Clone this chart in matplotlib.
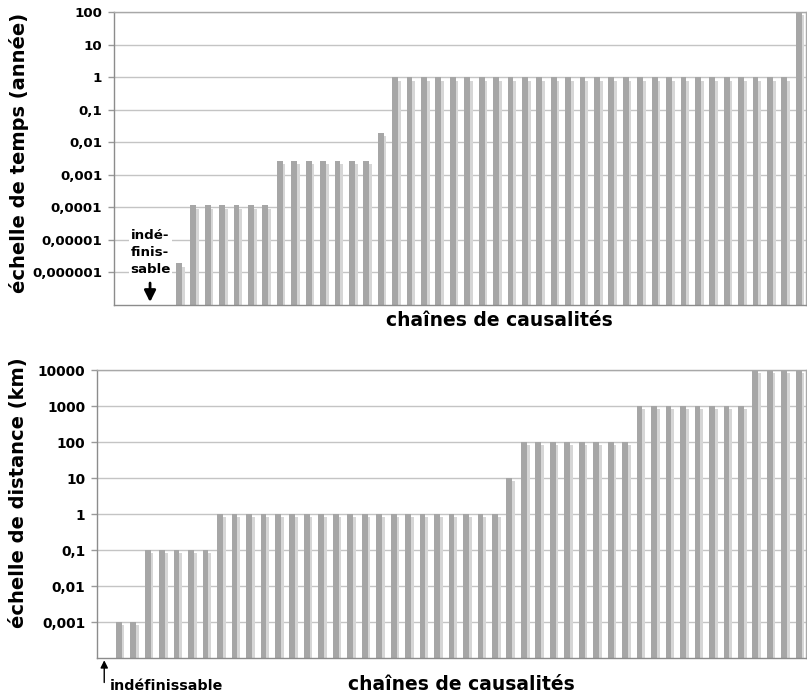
import numpy as np
import matplotlib
matplotlib.use("Agg")
import matplotlib.pyplot as plt
import matplotlib.patheffects as pe
from matplotlib.ticker import FixedLocator, FixedFormatter, NullLocator
from matplotlib.transforms import blended_transform_factory

# ---------- données ------------------------------------------------------ #
# échelle de temps (année) par chaîne de causalité ; nan = indéfinissable
temps = [np.nan, np.nan, np.nan, np.nan,
         1.9e-6,
         1.14e-4, 1.14e-4, 1.14e-4, 1.14e-4, 1.14e-4, 1.14e-4,
         2.74e-3, 2.74e-3, 2.74e-3, 2.74e-3, 2.74e-3, 2.74e-3, 2.74e-3,
         1.92e-2,
         1, 1, 1, 1, 1, 1, 1, 1, 1, 1, 1, 1, 1, 1,
         1, 1, 1, 1, 1, 1, 1, 1, 1, 1, 1, 1, 1, 1,
         100]
temps_ticks = [1e-6, 1e-5, 1e-4, 1e-3, 1e-2, 1e-1, 1, 10, 100]
temps_labels = ["0,000001", "0,00001", "0,0001", "0,001", "0,01",
                "0,1", "1", "10", "100"]

# échelle de distance (km) par chaîne de causalité
distance = [np.nan,
            0.001, 0.001,
            0.1, 0.1, 0.1, 0.1, 0.1,
            1, 1, 1, 1, 1, 1, 1, 1, 1, 1,
            1, 1, 1, 1, 1, 1, 1, 1, 1, 1,
            10,
            100, 100, 100, 100, 100, 100, 100, 100,
            1000, 1000, 1000, 1000, 1000, 1000, 1000, 1000,
            10000, 10000, 10000, 10000]
distance_ticks = [1e-3, 1e-2, 1e-1, 1, 10, 100, 1000, 10000]
distance_labels = ["0,001", "0,01", "0,1", "1", "10", "100", "1000", "10000"]

XLABEL = "chaînes de causalités"
BAR_COL = "#a6a6a6"
SHADOW_COL = "#d6d6d6"
GRID_COL = "#c4c4c4"
# ------------------------------------------------------------------------- #

plt.rcParams["font.family"] = ["DejaVu Sans"]
plt.rcParams["font.weight"] = "bold"

fig = plt.figure(figsize=(8.07, 6.94), dpi=100)
ax1 = fig.add_axes([114 / 807, 1 - 305 / 694, 692 / 807, 293 / 694])
ax2 = fig.add_axes([97 / 807, 1 - 658 / 694, 709 / 807, 288 / 694])


def draw(ax, vals, ticks, labels, ylim, fs):
    vals = np.asarray(vals, dtype=float)
    x = np.arange(len(vals))
    ok = ~np.isnan(vals)
    ax.set_yscale("log")
    ax.bar(x[ok], vals[ok], width=0.4, color=BAR_COL, zorder=2,
           path_effects=[pe.SimplePatchShadow(offset=(2, -2.5),
                                              shadow_rgbFace=SHADOW_COL,
                                              alpha=1.0),
                         pe.Normal()])
    ax.set_xlim(-0.5, len(vals) - 0.5)
    ax.set_ylim(*ylim)
    ax.yaxis.set_major_locator(FixedLocator(ticks))
    ax.yaxis.set_major_formatter(FixedFormatter(labels))
    ax.yaxis.set_minor_locator(NullLocator())
    ax.set_xticks([])
    ax.tick_params(axis="y", length=4.5, width=1, color="#9a9a9a",
                   pad=4, labelsize=fs)
    for t in ax.get_yticklabels():
        t.set_fontweight("bold")
    ax.grid(axis="y", color=GRID_COL, lw=1)
    ax.set_axisbelow(True)
    for s in ax.spines.values():
        s.set_color("#a8a8a8")
        s.set_linewidth(1)
    ax.spines["left"].set_color("#8c8c8c")
    ax.spines["bottom"].set_color("#8c8c8c")


draw(ax1, temps, temps_ticks, temps_labels, (1e-7, 100), 9.6)
draw(ax2, distance, distance_ticks, distance_labels, (1e-4, 1e4), 9.9)

# titres d'axes
fig.text(19 / 807, 1 - 153 / 694, "échelle de temps (année)", rotation=90,
         ha="center", va="center", fontsize=14, fontweight="bold")
fig.text(19 / 807, 1 - 493 / 694, "échelle de distance (km)", rotation=90,
         ha="center", va="center", fontsize=14, fontweight="bold")
fig.text(499 / 807, 1 - 321 / 694, XLABEL, ha="center", va="center",
         fontsize=13.5, fontweight="bold")
fig.text(461 / 807, 1 - 684 / 694, XLABEL, ha="center", va="center",
         fontsize=13.5, fontweight="bold")

# annotations "indéfinissable"
tr1 = blended_transform_factory(ax1.transData, ax1.transAxes)
ax1.text(2, 0.18, "indé-\nfinis-\nsable", transform=tr1, ha="center",
         va="center", fontsize=9.6, fontweight="bold", zorder=3,
         linespacing=1.4,
         bbox=dict(facecolor="white", edgecolor="none", pad=1))
ax1.annotate("", xy=(2, 0.01), xytext=(2, 0.075), xycoords=tr1,
             textcoords=tr1,
             arrowprops=dict(arrowstyle="-|>", color="black", lw=2,
                             mutation_scale=17, shrinkA=0, shrinkB=0))

tr2 = blended_transform_factory(ax2.transData, ax2.transAxes)
ax2.annotate("", xy=(0, -0.008), xytext=(0, -0.085), xycoords=tr2,
             textcoords=tr2, annotation_clip=False,
             arrowprops=dict(arrowstyle="-|>", color="black", lw=1,
                             mutation_scale=11, shrinkA=0, shrinkB=0))
ax2.text(0.35, -0.098, "indéfinissable", transform=tr2, ha="left",
         va="center", fontsize=10.3, fontweight="bold", clip_on=False)

fig.savefig("out.png", dpi=100)
